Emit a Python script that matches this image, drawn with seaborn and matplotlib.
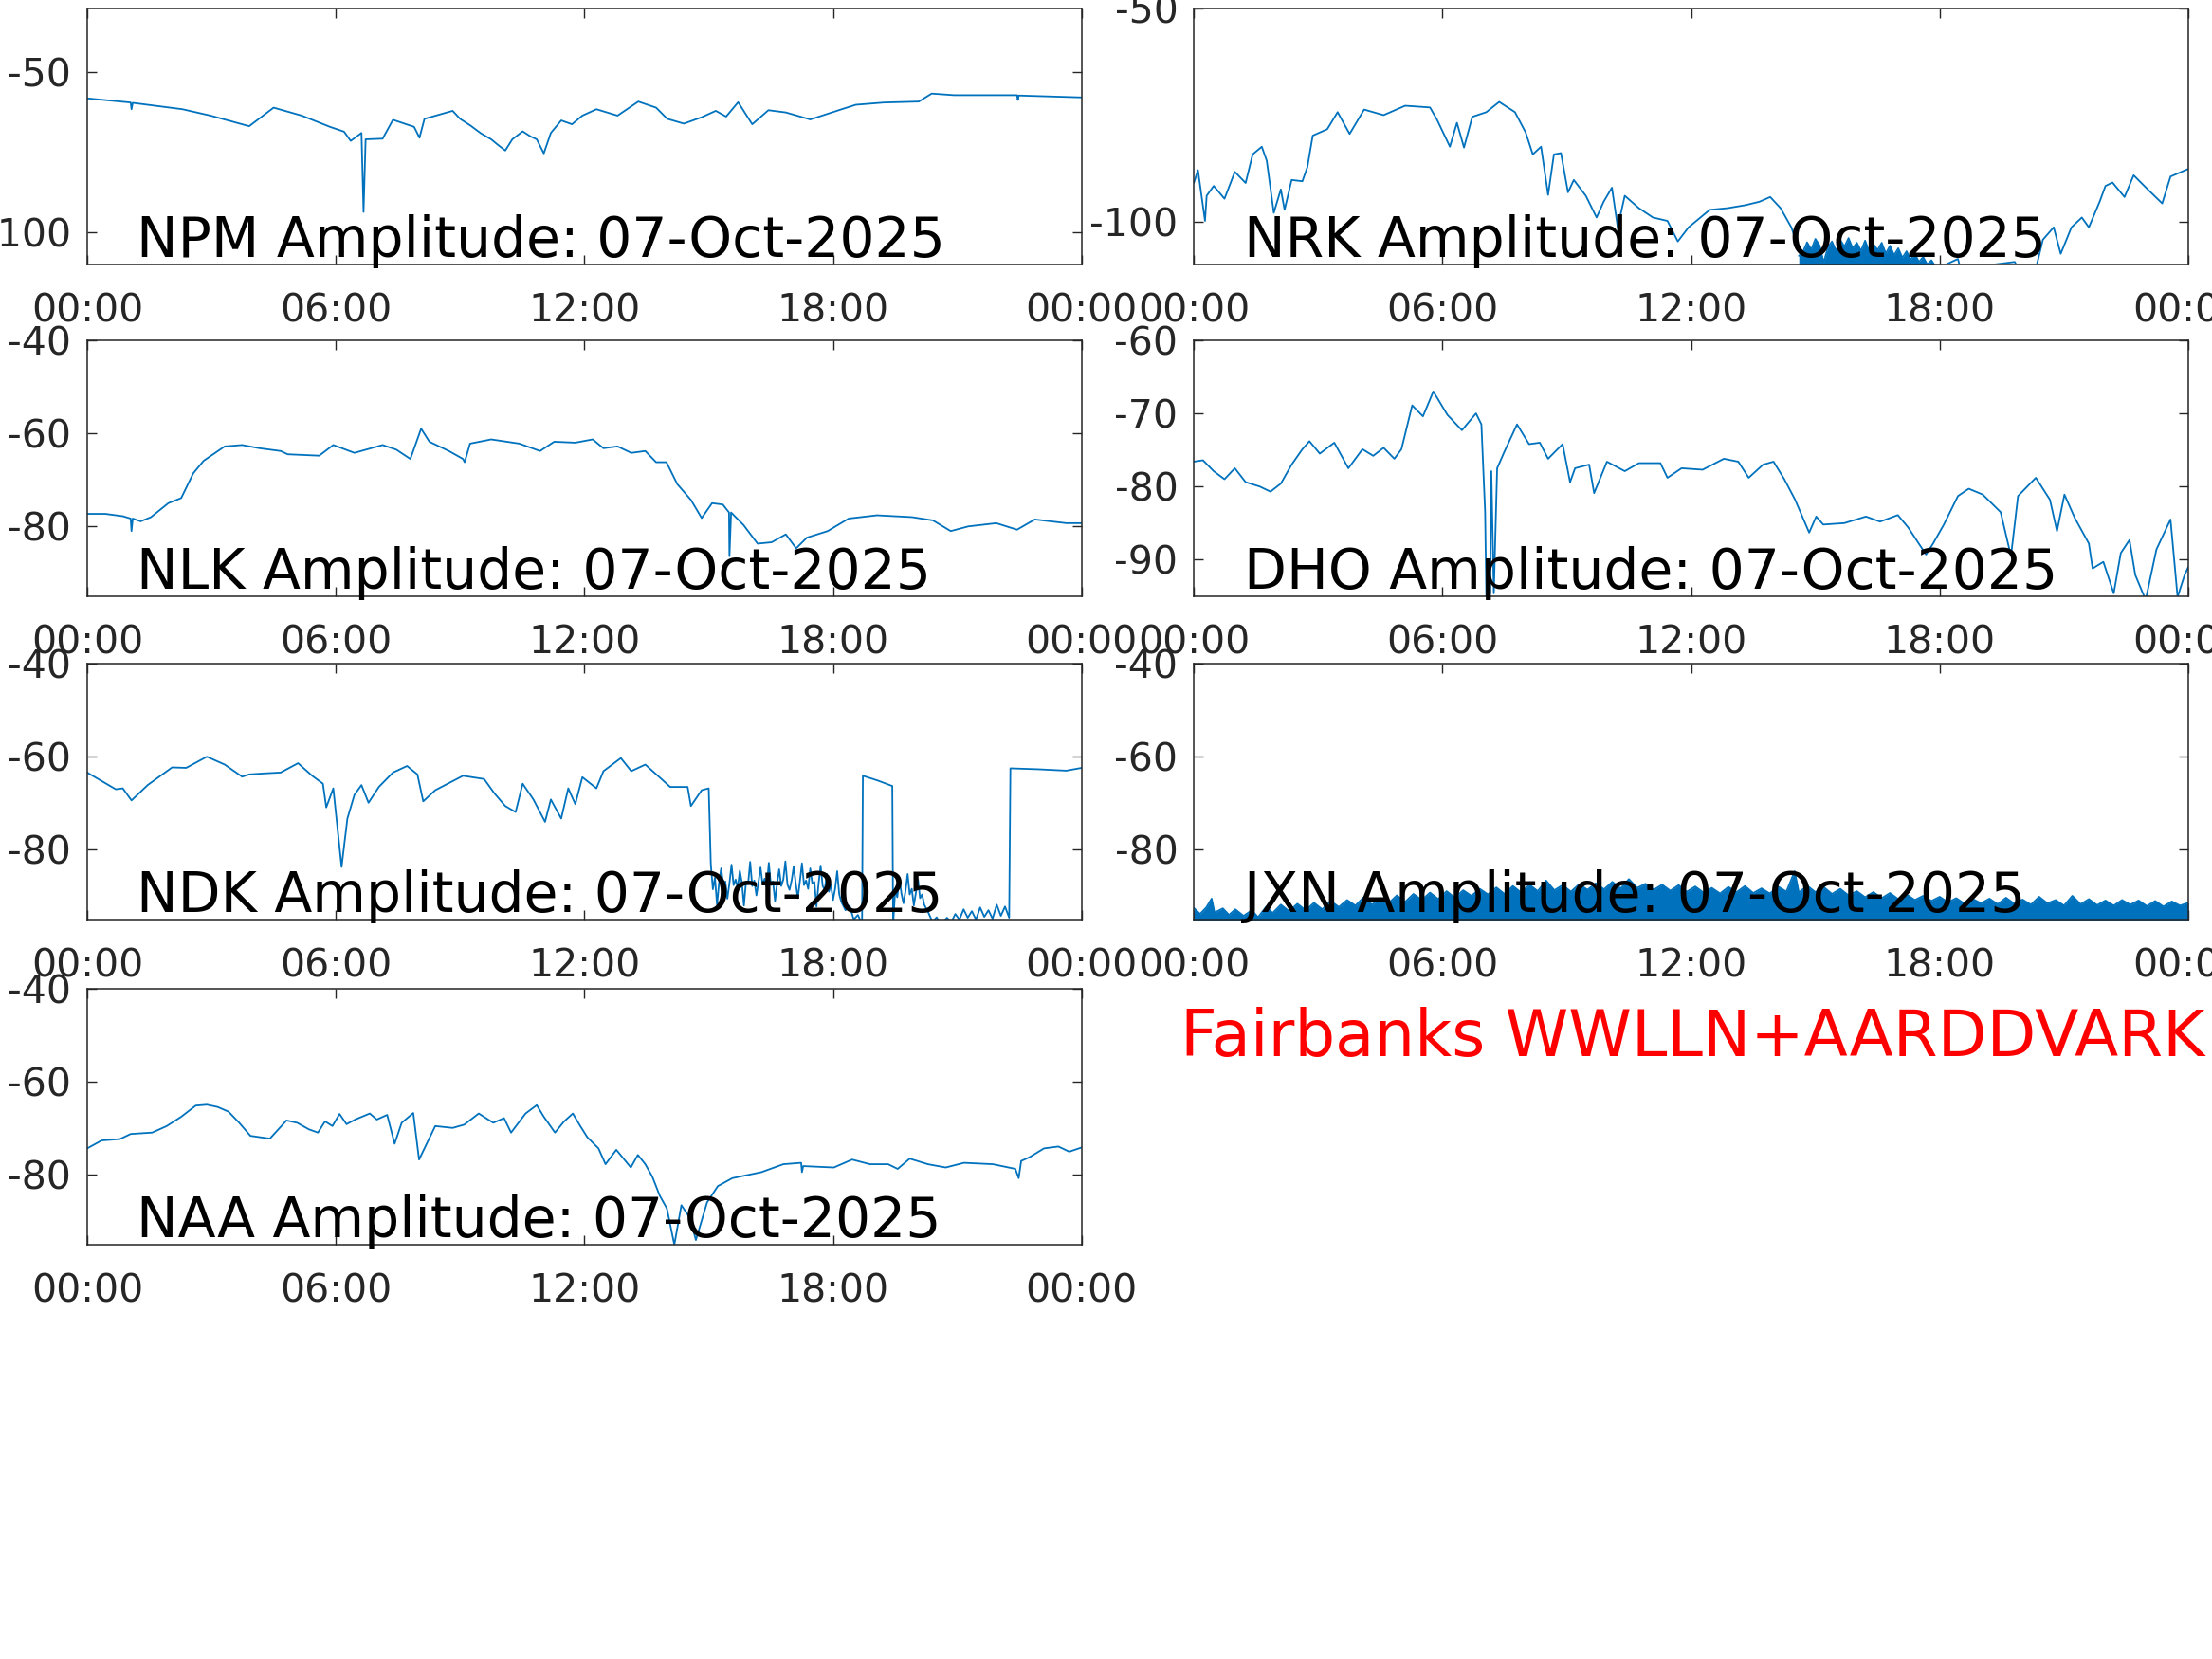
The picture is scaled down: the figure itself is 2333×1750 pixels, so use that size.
import numpy as np
import matplotlib
matplotlib.use('Agg')
import matplotlib.pyplot as plt
import seaborn as sns

sns.set_theme(style='ticks')
plt.rcParams['font.family'] = ['DejaVu Sans']

line_color = '#0072BD'
axis_color = '#262626'
date_str = '07-Oct-2025'
hour_ticks = [0, 6, 12, 18, 24]
hour_labels = ['00:00', '06:00', '12:00', '18:00', '00:00']

# NPM
npm_h = [0.0, 1.05, 1.07, 1.1, 2.3, 2.98, 3.91, 4.5, 5.18, 5.86, 6.2, 6.36, 6.62, 6.67, 6.72, 7.13,
         7.38, 7.89, 8.02, 8.14, 8.82, 9.0, 9.24, 9.5, 9.75, 9.9, 10.09, 10.26, 10.51, 10.7, 10.85,
         11.02, 11.19, 11.44, 11.7, 11.95, 12.29, 12.8, 13.3, 13.73, 14.0, 14.4, 14.83, 15.17,
         15.42, 15.71, 16.05, 16.44, 16.86, 17.45, 18.21, 18.55, 19.23, 20.07, 20.38, 20.92,
         22.44, 22.46, 22.48, 24.0]
npm_db = [-58.1, -59.4, -61.5, -59.5, -61.5, -63.5, -66.8, -61.0, -63.5, -67.0, -68.5, -71.4,
          -68.9, -93.6, -70.9, -70.7, -64.8, -67.0, -70.4, -64.5, -62.0, -64.5, -66.5, -69.0,
          -70.9, -72.5, -74.4, -70.9, -68.4, -70.0, -70.9, -75.3, -68.9, -65.0, -66.2, -63.5,
          -61.5, -63.5, -59.1, -61.0, -64.5, -66.0, -64.0, -62.0, -63.8, -59.3, -66.2, -61.8,
          -62.5, -64.7, -61.5, -60.1, -59.4, -59.1, -56.6, -57.1, -57.1, -58.6, -57.2, -57.8]

# NRK
nrk_h = [0.0, 0.1, 0.27, 0.31, 0.48, 0.74, 0.99, 1.25, 1.42, 1.64, 1.76, 1.93, 2.1, 2.19, 2.36,
         2.62, 2.74, 2.87, 3.22, 3.47, 3.76, 4.11, 4.58, 5.1, 5.7, 5.87, 6.18, 6.35, 6.52, 6.72,
         7.06, 7.37, 7.75, 8.01, 8.18, 8.38, 8.55, 8.69, 8.86, 9.03, 9.17, 9.46, 9.72, 9.89,
         10.09, 10.23, 10.4, 10.74, 11.08, 11.43, 11.68, 11.94, 12.45, 12.88, 13.31, 13.65,
         13.91, 14.16, 14.42, 14.68, 17.93, 18.44, 18.5, 19.81, 19.9, 20.32, 20.49, 20.75, 20.92,
         21.18, 21.43, 21.6, 21.86, 22.0, 22.17, 22.46, 22.68, 23.02, 23.37, 23.57, 24.0]
nrk_db = [-90.9, -87.9, -99.8, -93.9, -91.6, -94.6, -88.3, -90.9, -84.2, -82.4, -85.7, -97.9,
          -92.4, -97.2, -90.2, -90.5, -87.2, -79.8, -78.3, -74.3, -79.4, -73.7, -75.0, -72.8,
          -73.2, -76.1, -82.4, -76.8, -82.6, -75.4, -74.3, -71.9, -74.3, -79.1, -84.2, -82.4,
          -93.7, -84.2, -83.9, -93.1, -90.2, -93.9, -99.0, -95.3, -92.0, -101.3, -93.9, -96.8,
          -99.0, -99.8, -104.6, -101.3, -97.2, -96.8, -96.1, -95.3, -94.2, -96.8, -101.3,
          -108.7, -111.0, -108.7, -111.0, -109.4, -111.0, -111.0, -104.2, -101.3, -107.5,
          -101.3, -99.0, -101.3, -95.3, -91.6, -90.8, -94.2, -89.1, -92.4, -95.7, -89.4, -87.6]
# NRK noise band (top edge, band runs below the axis floor)
nrk_band_h = [14.6, 14.7, 14.8, 14.9, 15.0, 15.1, 15.2, 15.3, 15.4, 15.5, 15.6, 15.7, 15.8, 15.9,
              16.0, 16.1, 16.2, 16.3, 16.4, 16.5, 16.6, 16.7, 16.8, 16.9, 17.0, 17.1, 17.2,
              17.3, 17.4, 17.5, 17.6, 17.7, 17.8, 17.9]
nrk_band_top = [-108.0, -107.0, -104.8, -106.5, -104.0, -105.5, -109.5, -106.0, -104.6, -106.8,
                -104.2, -105.8, -103.8, -106.2, -104.9, -106.8, -104.4, -107.0, -105.2, -106.6,
                -104.9, -107.4, -105.6, -107.8, -106.2, -108.4, -106.9, -108.8, -107.5, -109.4,
                -108.2, -110.0, -109.0, -110.5]

# NLK
nlk_h = [0.0, 0.44, 0.86, 1.05, 1.07, 1.1, 1.29, 1.54, 1.96, 2.27, 2.56, 2.81, 3.32, 3.74, 4.16,
         4.67, 4.84, 5.6, 5.94, 6.45, 7.13, 7.46, 7.8, 8.06, 8.26, 8.73, 9.07, 9.11, 9.24, 9.75,
         10.43, 10.93, 11.27, 11.78, 12.2, 12.46, 12.8, 13.13, 13.47, 13.73, 13.98, 14.24, 14.57,
         14.83, 15.08, 15.34, 15.49, 15.5, 15.54, 15.84, 16.18, 16.52, 16.86, 17.11, 17.37,
         17.87, 18.38, 19.06, 19.91, 20.41, 20.84, 21.26, 21.94, 22.44, 22.87, 23.63, 24.0]
nlk_db = [-77.3, -77.3, -77.8, -78.3, -81.0, -78.3, -78.9, -78.0, -75.0, -73.9, -68.6, -65.9,
          -62.8, -62.5, -63.2, -63.8, -64.5, -64.8, -62.5, -64.2, -62.5, -63.5, -65.5, -59.0,
          -61.8, -63.8, -65.5, -66.2, -62.2, -61.3, -62.2, -63.8, -61.8, -62.0, -61.3, -63.2,
          -62.8, -64.2, -63.8, -66.2, -66.2, -70.9, -74.3, -78.2, -75.0, -75.3, -77.0, -86.4,
          -77.0, -79.7, -83.7, -83.4, -81.7, -84.7, -82.4, -81.0, -78.3, -77.6, -78.0, -78.7,
          -81.0, -80.0, -79.3, -80.7, -78.5, -79.3, -79.3]

# DHO
dho_h = [0.0, 0.22, 0.48, 0.74, 0.99, 1.25, 1.59, 1.85, 2.1, 2.36, 2.62, 2.79, 3.04, 3.39, 3.73,
         4.07, 4.33, 4.58, 4.84, 5.01, 5.27, 5.53, 5.78, 6.12, 6.47, 6.81, 6.94, 7.03, 7.06, 7.15,
         7.18, 7.24, 7.32, 7.49, 7.8, 8.09, 8.35, 8.55, 8.9, 9.08, 9.2, 9.54, 9.66, 9.97, 10.4,
         10.74, 11.26, 11.43, 11.77, 12.28, 12.79, 13.14, 13.39, 13.74, 13.99, 14.25, 14.51,
         14.85, 15.02, 15.19, 15.7, 16.22, 16.56, 16.99, 17.24, 17.67, 17.84, 18.1, 18.44, 18.7,
         19.04, 19.47, 19.72, 19.89, 20.32, 20.66, 20.83, 21.01, 21.26, 21.6, 21.69, 21.95, 22.2,
         22.37, 22.58, 22.72, 22.97, 23.23, 23.57, 23.74, 23.91, 24.0]
dho_db = [-76.6, -76.4, -77.9, -79.0, -77.5, -79.4, -80.0, -80.7, -79.6, -77.0, -74.9, -73.8,
          -75.5, -74.0, -77.5, -74.9, -75.8, -74.7, -76.2, -74.9, -68.9, -70.4, -67.0, -70.2,
          -72.3, -70.0, -71.5, -83.5, -95.5, -94.6, -77.9, -94.6, -77.5, -75.3, -71.5, -74.2,
          -74.0, -76.2, -74.2, -79.4, -77.5, -77.0, -80.9, -76.6, -77.9, -76.8, -76.8, -78.8,
          -77.5, -77.7, -76.2, -76.6, -78.8, -77.0, -76.6, -79.0, -81.8, -86.3, -84.1, -85.2,
          -85.0, -84.1, -84.8, -83.9, -85.6, -89.3, -87.8, -85.2, -81.3, -80.3, -81.1, -83.5,
          -89.5, -81.3, -78.8, -81.8, -86.1, -81.1, -84.3, -87.8, -91.2, -90.3, -94.6, -89.1,
          -87.3, -92.1, -95.5, -88.6, -84.5, -95.1, -92.1, -91.0]

# NDK
ndk_h = [0.0, 0.69, 0.86, 1.07, 1.46, 1.88, 2.05, 2.39, 2.89, 3.32, 3.74, 3.91, 4.25, 4.67, 5.09,
         5.43, 5.69, 5.77, 5.94, 6.14, 6.28, 6.45, 6.62, 6.79, 7.04, 7.38, 7.72, 7.97, 8.11, 8.4,
         9.07, 9.58, 9.83, 10.09, 10.34, 10.51, 10.77, 11.05, 11.19, 11.44, 11.61, 11.78, 11.95,
         12.29, 12.46, 12.88, 13.13, 13.47, 13.81, 14.07, 14.49, 14.57, 14.83, 15.0,
         15.05, 15.1, 15.15, 15.2, 15.25, 15.3, 15.35, 15.4, 15.45, 15.5, 15.55, 15.6, 15.65,
         15.7, 15.75, 15.8, 15.85, 15.9, 15.95, 16.0, 16.05, 16.1, 16.15, 16.2, 16.25, 16.3,
         16.35, 16.4, 16.45, 16.5, 16.55, 16.6, 16.65, 16.7, 16.75, 16.8, 16.85, 16.9, 16.95,
         17.0, 17.05, 17.1, 17.15, 17.2, 17.25, 17.3, 17.35, 17.4, 17.45, 17.5, 17.55, 17.6,
         17.65, 17.7, 17.75, 17.8, 17.85, 17.9, 17.95, 18.0, 18.05, 18.1, 18.15, 18.2, 18.3,
         18.4, 18.5, 18.6, 18.7, 18.72, 19.07, 19.43, 19.45,
         19.5, 19.55, 19.6, 19.65, 19.7, 19.75, 19.8, 19.85, 19.9, 19.95, 20.0, 20.05, 20.1,
         20.15, 20.2, 20.3, 20.4, 20.5, 20.6,
         20.75, 20.85, 20.95, 21.05, 21.15, 21.25, 21.35, 21.45, 21.55, 21.65, 21.75, 21.85,
         21.95, 22.05, 22.15, 22.25, 22.28, 22.95, 23.63, 24.0]
ndk_db = [-63.4, -67.0, -66.8, -69.4, -66.1, -63.4, -62.3, -62.4, -60.0, -61.7, -64.3, -63.8,
          -63.6, -63.4, -61.4, -64.1, -65.8, -70.9, -66.8, -83.7, -73.3, -68.2, -66.1, -69.9,
          -66.5, -63.4, -62.0, -63.8, -69.6, -67.2, -64.1, -64.8, -67.9, -70.6, -71.9, -65.8,
          -69.2, -74.0, -69.2, -73.3, -66.8, -70.2, -64.4, -66.8, -63.1, -60.3, -63.1, -61.7,
          -64.4, -66.5, -66.5, -70.6, -67.2, -66.8,
          -83.0, -88.5, -86.0, -91.8, -87.0, -84.0, -87.5, -86.8, -90.5, -87.2, -83.2, -87.6,
          -86.4, -88.2, -84.5, -87.0, -92.0, -86.8, -87.4, -82.6, -87.8, -86.6, -89.8, -87.0,
          -83.8, -87.4, -86.2, -88.0, -82.8, -87.6, -86.8, -91.0, -87.2, -84.2, -87.8, -86.4,
          -82.5, -87.5, -88.6, -86.6, -83.6, -87.2, -90.4, -86.8, -82.9, -87.6, -86.6, -88.4,
          -84.0, -87.3, -86.9, -92.2, -87.4, -83.4, -87.8, -88.6, -85.2, -89.0, -87.6, -90.8,
          -88.4, -84.6, -89.6, -91.2, -93.0, -92.0, -95.0, -94.0, -96.0, -64.1, -65.1, -66.3,
          -96.0,
          -88.6, -90.2, -86.0, -89.4, -91.5, -88.8, -85.2, -89.6, -88.4, -92.0, -89.2, -86.4,
          -90.4, -89.6, -91.8, -93.5, -95.5, -94.5, -96.0,
          -94.6, -95.6, -93.8, -95.0, -92.8, -94.6, -93.2, -95.0, -92.4, -94.4, -93.0, -94.8,
          -91.8, -94.2, -92.2, -94.6, -62.5, -62.7, -63.0, -62.4]

# JXN (top of the noise band, band reaches the axis floor)
jxn_h = [0.0, 0.15, 0.3, 0.43, 0.5, 0.7, 0.85, 1.0, 1.2, 1.4, 1.55, 1.75, 1.9, 2.1, 2.3, 2.5,
         2.7, 2.9, 3.1, 3.3, 3.5, 3.7, 3.9, 4.1, 4.3, 4.5, 4.7, 4.9, 5.1, 5.3, 5.5, 5.7, 5.9,
         6.1, 6.3, 6.5, 6.7, 6.9, 7.1, 7.3, 7.5, 7.7, 7.9, 8.1, 8.3, 8.5, 8.7, 8.9, 9.1, 9.3,
         9.5, 9.7, 9.9, 10.1, 10.3, 10.5, 10.7, 10.9, 11.1, 11.3, 11.5, 11.7, 11.9, 12.1, 12.3,
         12.5, 12.7, 12.9, 13.1, 13.3, 13.5, 13.7, 13.9, 14.1, 14.3, 14.5, 14.6, 14.8, 15.0,
         15.2, 15.4, 15.6, 15.8, 16.0, 16.2, 16.4, 16.6, 16.8, 17.0, 17.2, 17.4, 17.6, 17.8,
         18.0, 18.2, 18.4, 18.6, 18.8, 19.0, 19.2, 19.4, 19.6, 19.8, 20.0, 20.2, 20.4, 20.6,
         20.8, 21.0, 21.2, 21.4, 21.6, 21.8, 22.0, 22.2, 22.4, 22.6, 22.8, 23.0, 23.2, 23.4,
         23.6, 23.8, 24.0]
jxn_db = [-92.5, -93.8, -92.4, -90.5, -93.5, -92.6, -94.0, -92.8, -94.2, -93.0, -94.5, -92.2,
          -93.6, -91.8, -93.2, -91.6, -93.0, -91.4, -92.8, -91.0, -92.3, -90.8, -92.0, -90.2,
          -91.8, -90.4, -91.5, -89.8, -91.2, -89.5, -90.8, -89.2, -90.6, -88.9, -90.3, -88.7,
          -89.9, -88.4, -89.6, -88.1, -89.5, -87.8, -89.2, -87.5, -88.9, -86.6, -88.7, -87.6,
          -89.0, -87.4, -88.6, -87.2, -88.5, -86.9, -88.3, -86.3, -88.2, -87.3, -88.6, -87.5,
          -88.8, -87.6, -89.0, -87.9, -89.2, -88.2, -89.4, -88.0, -89.1, -87.8, -89.3, -88.3,
          -89.4, -87.9, -89.0, -84.6, -89.2, -87.7, -89.1, -88.0, -89.5, -88.4, -89.8, -88.9,
          -90.2, -89.1, -90.4, -89.3, -90.6, -89.6, -90.8, -89.9, -91.0, -90.1, -91.3, -90.4,
          -91.6, -90.6, -91.5, -90.5, -91.7, -90.3, -91.6, -90.7, -91.8, -90.1, -91.5, -90.8,
          -92.0, -89.9, -91.7, -90.6, -91.9, -90.9, -92.0, -90.8, -91.8, -90.9, -92.1, -91.0,
          -92.2, -91.1, -92.0, -91.4]

# NAA
naa_h = [0.0, 0.35, 0.79, 1.05, 1.57, 1.92, 2.27, 2.62, 2.89, 3.15, 3.41, 3.67, 3.94, 4.41,
         4.81, 5.07, 5.35, 5.57, 5.74, 5.92, 6.09, 6.26, 6.47, 6.82, 6.99, 7.24, 7.42, 7.59,
         7.87, 8.01, 8.4, 8.82, 9.1, 9.45, 9.8, 10.06, 10.23, 10.58, 10.85, 11.02, 11.29, 11.51,
         11.72, 11.9, 12.07, 12.34, 12.51, 12.77, 13.12, 13.29, 13.47, 13.64, 13.82, 13.99,
         14.17, 14.34, 14.55, 14.69, 14.96, 15.22, 15.57, 16.27, 16.8, 17.23, 17.25, 17.28,
         18.02, 18.46, 18.89, 19.33, 19.56, 19.85, 20.29, 20.72, 21.16, 21.86, 22.4, 22.48,
         22.54, 22.74, 23.09, 23.44, 23.7, 24.0]
naa_db = [-74.3, -72.6, -72.3, -71.2, -70.9, -69.5, -67.5, -65.1, -64.9, -65.4, -66.4, -68.8,
          -71.6, -72.2, -68.3, -68.8, -70.2, -70.9, -68.5, -69.5, -66.9, -69.1, -68.1, -66.8,
          -68.1, -67.1, -73.3, -68.8, -66.7, -76.7, -69.5, -69.9, -69.2, -66.8, -68.8, -67.8,
          -70.9, -66.8, -65.0, -67.5, -70.9, -68.5, -66.8, -69.5, -71.9, -74.3, -77.7, -74.6,
          -78.4, -75.7, -77.7, -80.4, -84.5, -87.2, -95.0, -86.5, -89.3, -94.0, -85.9, -82.4,
          -80.7, -79.4, -77.7, -77.4, -79.4, -78.1, -78.4, -76.7, -77.7, -77.7, -78.7, -76.5,
          -77.7, -78.4, -77.4, -77.7, -78.7, -80.7, -77.0, -76.2, -74.3, -73.9, -75.0, -74.1]

fig = plt.figure(figsize=(23.33, 17.5), dpi=100)

col_x = [0.0394, 0.5397]
row_y = [0.8406, 0.6406, 0.4457, 0.2497]
ax_w, ax_h = 0.4496, 0.1543

panels = [
    ('NPM', npm_h, npm_db, (-110, -30), [-100, -50], 0, 0),
    ('NRK', nrk_h, nrk_db, (-110, -50), [-100, -50], 0, 1),
    ('NLK', nlk_h, nlk_db, (-95, -40), [-80, -60, -40], 1, 0),
    ('DHO', dho_h, dho_db, (-95, -60), [-90, -80, -70, -60], 1, 1),
    ('NDK', ndk_h, ndk_db, (-95, -40), [-80, -60, -40], 2, 0),
    ('JXN', jxn_h, jxn_db, (-95, -40), [-80, -60, -40], 2, 1),
    ('NAA', naa_h, naa_db, (-95, -40), [-80, -60, -40], 3, 0),
]

for name, hrs, vals, ylim, yticks, r, c in panels:
    ax = fig.add_axes([col_x[c], row_y[r], ax_w, ax_h])
    if name == 'NRK':
        ax.fill_between(nrk_band_h, -112, nrk_band_top, color=line_color, lw=0)
        sns.lineplot(x=nrk_band_h, y=nrk_band_top, ax=ax, color=line_color, linewidth=1.2,
                     sort=False, estimator=None)
    if name == 'JXN':
        ax.fill_between(hrs, -97, vals, color=line_color, lw=0)
    sns.lineplot(x=hrs, y=vals, ax=ax, color=line_color, linewidth=1.3,
                 sort=False, estimator=None)
    ax.set_xlim(0, 24)
    ax.set_ylim(*ylim)
    ax.set_xticks(hour_ticks)
    ax.set_xticklabels(hour_labels)
    ax.set_yticks(yticks)
    ax.set_yticklabels([str(v) for v in yticks])
    ax.set_xlabel('')
    ax.set_ylabel('')
    ax.tick_params(axis='both', direction='in', length=7, width=1.0, colors=axis_color,
                   labelsize=29.5, top=True, right=True)
    ax.tick_params(axis='x', pad=21)
    ax.tick_params(axis='y', pad=12)
    for sp in ax.spines.values():
        sp.set_visible(True)
        sp.set_color(axis_color)
        sp.set_linewidth(1.1)
    ax.text(0.05, 0.03, f'{name} Amplitude: {date_str}', transform=ax.transAxes,
            fontsize=42, color='black', va='baseline', ha='left', zorder=5)

fig.text(0.5337, 0.3634, 'Fairbanks WWLLN+AARDDVARK', color='red', fontsize=48.5,
         ha='left', va='baseline')

fig.savefig('out.png', dpi=100)
